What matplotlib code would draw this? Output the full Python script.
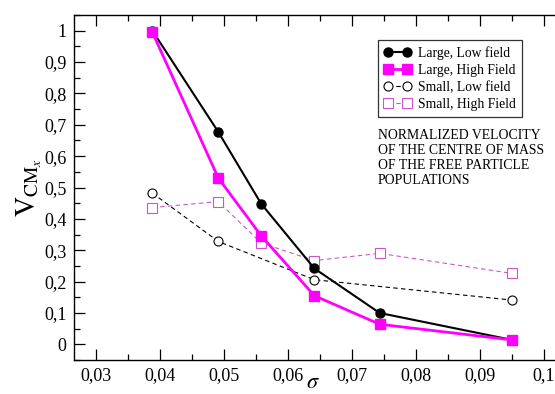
import matplotlib
matplotlib.use("Agg")
import matplotlib.pyplot as plt
from matplotlib.ticker import FixedLocator, FuncFormatter, MultipleLocator

plt.rcParams['font.family'] = ['Liberation Serif', 'DejaVu Serif']
plt.rcParams['mathtext.fontset'] = 'stix'

# data
sigma_all = [0.0388, 0.0491, 0.0558, 0.0641, 0.0743, 0.0950]
large_low = [1.000, 0.677, 0.448, 0.242, 0.100, 0.014]
large_high = [0.995, 0.530, 0.346, 0.155, 0.064, 0.014]
sigma_small_low = [0.0388, 0.0491, 0.0641, 0.0950]
small_low = [0.482, 0.328, 0.206, 0.141]
small_high = [0.436, 0.455, 0.323, 0.267, 0.290, 0.226]

xticks = [0.03, 0.04, 0.05, 0.06, 0.07, 0.08, 0.09, 0.10]
yticks = [0, 0.1, 0.2, 0.3, 0.4, 0.5, 0.6, 0.7, 0.8, 0.9, 1.0]

def comma_fmt(v, pos):
    s = ('%.2f' % v).rstrip('0').rstrip('.')
    if s == '-0':
        s = '0'
    return s.replace('.', ',')

fig = plt.figure(figsize=(5.55, 3.94), dpi=100)
ax = fig.add_axes([0.1325, 0.0863, 0.894, 0.8756])

ax.plot(sigma_all, large_low, '-', color='black', lw=1.5, marker='o', ms=6.5,
        mfc='black', mec='black', label='Large, Low field', zorder=4)
ax.plot(sigma_all, large_high, '-', color='#ff00ff', lw=2.0, marker='s', ms=6.5,
        mfc='#ff00ff', mec='#ff00ff', label='Large, High Field', zorder=5)
ax.plot(sigma_small_low, small_low, '--', color='black', lw=0.8, dashes=(4, 3),
        marker='o', ms=6.5, mfc='white', mec='black', mew=0.8,
        label='Small, Low field', zorder=3)
ax.plot(sigma_all, small_high, '--', color='#cc55cc', lw=0.8, dashes=(4, 3),
        marker='s', ms=6.5, mfc='white', mec='#cc55cc', mew=0.8,
        label='Small, High Field', zorder=3)

ax.set_xlim(0.02648, 0.1040)
ax.set_ylim(-0.05, 1.05)
ax.xaxis.set_major_locator(FixedLocator(xticks))
ax.xaxis.set_minor_locator(MultipleLocator(0.005))
ax.yaxis.set_major_locator(FixedLocator(yticks))
ax.yaxis.set_minor_locator(MultipleLocator(0.05))
ax.xaxis.set_major_formatter(FuncFormatter(comma_fmt))
ax.yaxis.set_major_formatter(FuncFormatter(comma_fmt))

ax.tick_params(which='major', direction='in', length=8, width=0.9,
               labelsize=13, top=True, right=False, pad=5)
ax.tick_params(which='minor', direction='in', length=4, width=0.9,
               top=True, right=False)
for sp in ax.spines.values():
    sp.set_linewidth(1.0)

ax.set_ylabel(r'$\mathrm{V}_{\mathrm{CM}_{x}}$', fontsize=20, labelpad=0)
fig.text(313 / 555, 0.003, r'$\sigma$', fontsize=16, ha='center', va='bottom')

leg = ax.legend(loc='upper left', bbox_to_anchor=(0.6137, 0.9275), fontsize=9.8,
                numpoints=2, frameon=True, fancybox=False, edgecolor='black',
                handlelength=2.0, handletextpad=0.45, borderpad=0.45,
                labelspacing=0.3, borderaxespad=0, handleheight=0.8)
leg.get_frame().set_linewidth(0.9)
leg.set_zorder(10)

ax.text(0.6137, 0.670, 'NORMALIZED VELOCITY\nOF THE CENTRE OF MASS\nOF THE FREE PARTICLE\nPOPULATIONS',
        transform=ax.transAxes, fontsize=9.9, va='top', ha='left', linespacing=1.22)

fig.savefig('out.png', dpi=100)
